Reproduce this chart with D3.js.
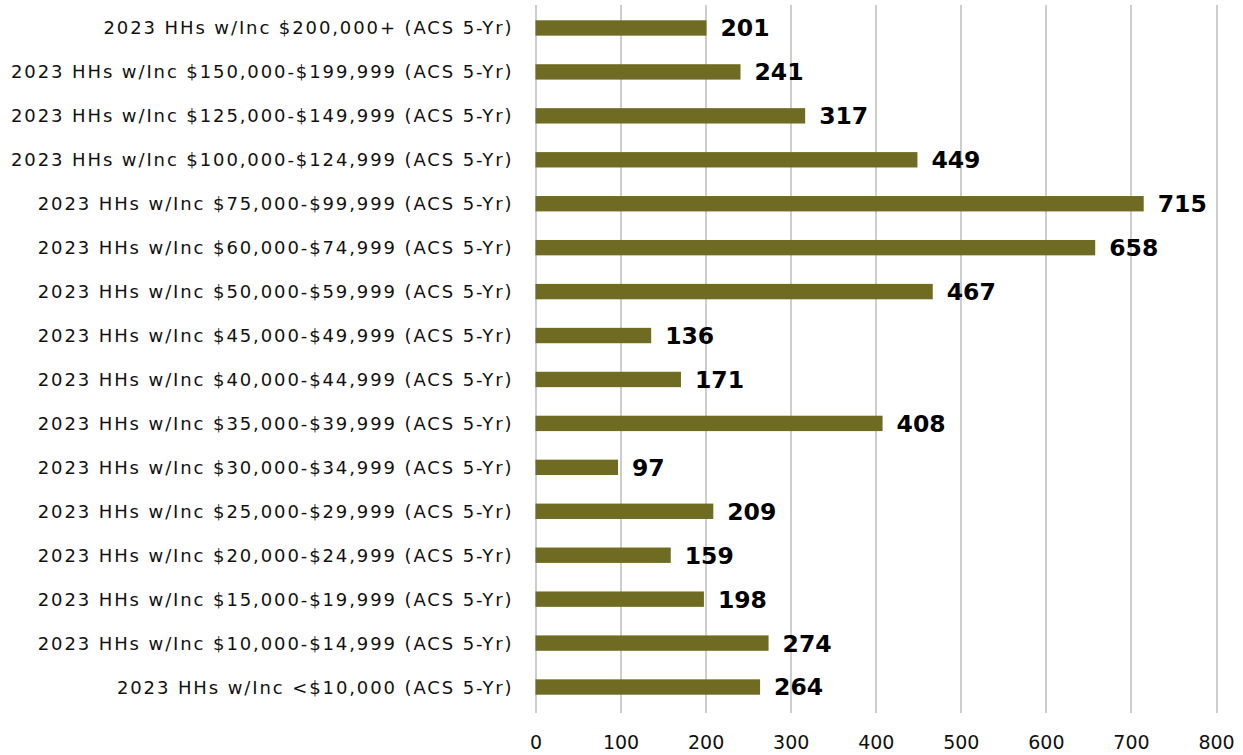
<!DOCTYPE html>
<html>
<head>
<meta charset="utf-8">
<script src="https://cdn.jsdelivr.net/npm/d3@7"></script>
<style>
  html, body { margin: 0; padding: 0; background: #ffffff; }
  svg { display: block; }
</style>
</head>
<body>
<svg id="chart" width="1243" height="755"></svg>
<script>
// Household income brackets (top to bottom as displayed)
const categories = [
  "2023 HHs w/Inc $200,000+ (ACS 5-Yr)",
  "2023 HHs w/Inc $150,000-$199,999 (ACS 5-Yr)",
  "2023 HHs w/Inc $125,000-$149,999 (ACS 5-Yr)",
  "2023 HHs w/Inc $100,000-$124,999 (ACS 5-Yr)",
  "2023 HHs w/Inc $75,000-$99,999 (ACS 5-Yr)",
  "2023 HHs w/Inc $60,000-$74,999 (ACS 5-Yr)",
  "2023 HHs w/Inc $50,000-$59,999 (ACS 5-Yr)",
  "2023 HHs w/Inc $45,000-$49,999 (ACS 5-Yr)",
  "2023 HHs w/Inc $40,000-$44,999 (ACS 5-Yr)",
  "2023 HHs w/Inc $35,000-$39,999 (ACS 5-Yr)",
  "2023 HHs w/Inc $30,000-$34,999 (ACS 5-Yr)",
  "2023 HHs w/Inc $25,000-$29,999 (ACS 5-Yr)",
  "2023 HHs w/Inc $20,000-$24,999 (ACS 5-Yr)",
  "2023 HHs w/Inc $15,000-$19,999 (ACS 5-Yr)",
  "2023 HHs w/Inc $10,000-$14,999 (ACS 5-Yr)",
  "2023 HHs w/Inc <$10,000 (ACS 5-Yr)"
];

// Household counts per bracket
const values = [201, 241, 317, 449, 715, 658, 467, 136, 171, 408, 97, 209, 159, 198, 274, 264];

// X axis ticks
const xTicks = [0, 100, 200, 300, 400, 500, 600, 700, 800];

const svg = d3.select("#chart");
const margin = { top: 6, right: 27, bottom: 46, left: 535.5 };
const width = 1243 - margin.left - margin.right;
const height = 755 - margin.top - margin.bottom;

const g = svg.append("g").attr("transform", `translate(${margin.left},${margin.top})`);

const x = d3.scaleLinear().domain([0, 800]).range([0, width]);
const y = d3.scaleBand().domain(categories).range([0, height]).paddingInner(0.65).paddingOuter(0.325);

// Vertical gridlines with short tick stubs below the plot
g.selectAll("line.grid")
  .data(xTicks)
  .join("line")
  .attr("class", "grid")
  .attr("x1", d => Math.round(x(d)) + 0.5)
  .attr("x2", d => Math.round(x(d)) + 0.5)
  .attr("y1", -1)
  .attr("y2", height + 4)
  .attr("stroke", "#b3b3b3")
  .attr("stroke-width", 1.3);

// X axis tick labels
const xAxis = d3.axisBottom(x).tickValues(xTicks).tickSize(0).tickPadding(0);
const ax = g.append("g").attr("transform", `translate(0,${height})`).call(xAxis);
ax.select(".domain").remove();
ax.selectAll("text")
  .attr("y", 33)
  .attr("dy", "0.35em")
  .attr("fill", "#111")
  .style("font-family", "'DejaVu Sans', sans-serif")
  .style("font-size", "19px");

// Category labels
const yAxis = d3.axisLeft(y).tickSize(0).tickPadding(22);
const ay = g.append("g").call(yAxis);
ay.select(".domain").remove();
ay.selectAll("text")
  .attr("fill", "#111")
  .attr("dy", "0.36em")
  .style("font-family", "'DejaVu Sans', sans-serif")
  .style("font-size", "18px")
  .style("letter-spacing", "1.9px");

// Bars
g.selectAll("rect.bar")
  .data(values)
  .join("rect")
  .attr("class", "bar")
  .attr("x", x(0))
  .attr("y", (d, i) => y(categories[i]))
  .attr("width", d => x(d) - x(0))
  .attr("height", y.bandwidth())
  .attr("fill", "#6f6b22");

// Value labels
g.selectAll("text.val")
  .data(values)
  .join("text")
  .attr("class", "val")
  .attr("x", d => x(d) + 14)
  .attr("y", (d, i) => y(categories[i]) + y.bandwidth() / 2)
  .attr("dy", "0.36em")
  .attr("fill", "#000")
  .style("font-family", "'DejaVu Sans', sans-serif")
  .style("font-weight", "bold")
  .style("font-size", "23.5px")
  .text(d => d);
</script>
</body>
</html>
